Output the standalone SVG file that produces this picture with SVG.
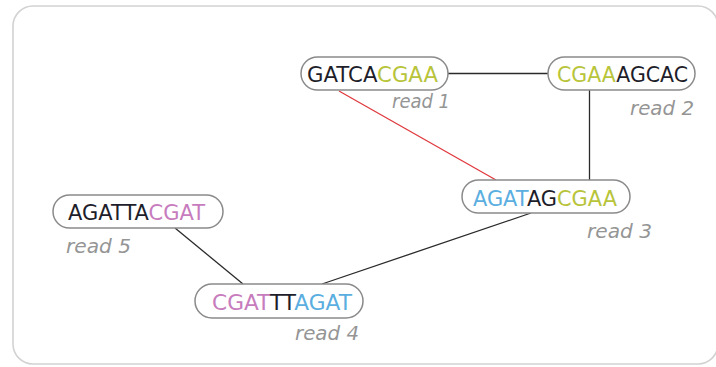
<svg xmlns="http://www.w3.org/2000/svg" width="716" height="367" viewBox="0 0 716 367">
  <style>
    .frame { fill: #ffffff; stroke: #d2d2d2; stroke-width: 1.6; }
    .pill { fill: #ffffff; stroke: #8a8a8a; stroke-width: 1.5; }
    .seq { font-family: "DejaVu Sans", "Liberation Sans", sans-serif; font-size: 21px; fill: #1e1e2a; }
    .lbl { font-family: "DejaVu Sans", "Liberation Sans", sans-serif; font-size: 19px; font-style: italic; fill: #959595; }
    .edge { stroke: #2a2a2a; stroke-width: 1.3; fill: none; }
    .edge.red { stroke: #e0393e; }
    .g { fill: #b8c43a; }
    .b { fill: #5aaee0; }
    .p { fill: #c77cbd; }
  </style>
  <rect width="716" height="367" fill="#ffffff"/>
  <rect class="frame" x="13" y="6" width="705" height="358" rx="20"/>

  <g id="connectors">
    <line class="edge" x1="448" y1="73.5" x2="548" y2="73.5"/>
    <line class="edge" x1="589.5" y1="90" x2="589.5" y2="180"/>
    <line class="edge red" x1="339" y1="91" x2="496" y2="180"/>
    <line class="edge" x1="531" y1="213" x2="322" y2="284"/>
    <line class="edge" x1="175" y1="228" x2="243" y2="284"/>
  </g>

  <g id="read1">
    <rect class="pill" x="301" y="57" width="147" height="33" rx="16.5"/>
    <text class="seq" x="307" y="81.5" textLength="131" lengthAdjust="spacingAndGlyphs">GATCA<tspan class="g">CGAA</tspan></text>
    <text class="lbl" x="392" y="108" textLength="58" lengthAdjust="spacingAndGlyphs">read 1</text>
  </g>

  <g id="read2">
    <rect class="pill" x="548" y="57" width="147" height="33" rx="16.5"/>
    <text class="seq" x="557" y="81.5" textLength="131" lengthAdjust="spacingAndGlyphs"><tspan class="g">CGAA</tspan>AGCAC</text>
    <text class="lbl" x="630" y="115" textLength="64" lengthAdjust="spacingAndGlyphs">read 2</text>
  </g>

  <g id="read3">
    <rect class="pill" x="462" y="180" width="168" height="33" rx="16.5"/>
    <text class="seq" x="473" y="206" textLength="144" lengthAdjust="spacingAndGlyphs"><tspan class="b">AGAT</tspan>AG<tspan class="g">CGAA</tspan></text>
    <text class="lbl" x="587" y="238" textLength="65" lengthAdjust="spacingAndGlyphs">read 3</text>
  </g>

  <g id="read5">
    <rect class="pill" x="53" y="195" width="170" height="33" rx="16.5"/>
    <text class="seq" x="68" y="220" textLength="137" lengthAdjust="spacingAndGlyphs">AGATTA<tspan class="p">CGAT</tspan></text>
    <text class="lbl" x="66" y="253" textLength="65" lengthAdjust="spacingAndGlyphs">read 5</text>
  </g>

  <g id="read4">
    <rect class="pill" x="195" y="284" width="168" height="34" rx="17"/>
    <text class="seq" x="212" y="309.5" textLength="140" lengthAdjust="spacingAndGlyphs"><tspan class="p">CGAT</tspan>TT<tspan class="b">AGAT</tspan></text>
    <text class="lbl" x="295" y="340" textLength="64" lengthAdjust="spacingAndGlyphs">read 4</text>
  </g>
</svg>
